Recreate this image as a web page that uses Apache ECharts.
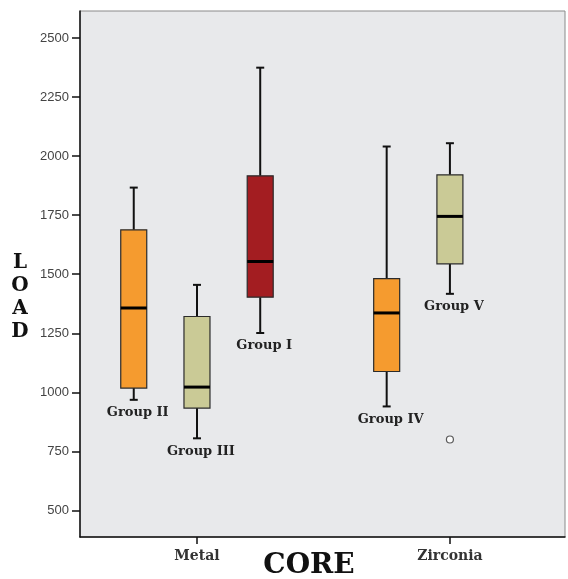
<!DOCTYPE html>
<html>
<head>
<meta charset="utf-8">
<script src="https://cdn.jsdelivr.net/npm/echarts@6/dist/echarts.min.js"></script>
<style>
  html, body { margin: 0; padding: 0; background: #ffffff; }
  #chart { width: 568px; height: 579px; }
</style>
</head>
<body>
<div id="chart"></div>
<script>
// ---- data ----
const categories = ['Metal', 'Zirconia'];
const groupNames = ['Group II', 'Group III', 'Group I', 'Group IV', 'Group V'];
const groupCore = [0, 0, 0, 1, 1];   // index into categories
const groupSlot = [0, 1, 2, 0, 1];   // cluster member index
const minVals    = [968, 805, 1251, 940, 1417];
const q1Vals     = [1018, 933, 1403, 1088, 1544];
const medianVals = [1357, 1022, 1554, 1336, 1745];
const q3Vals     = [1688, 1321, 1917, 1481, 1921];
const maxVals    = [1867, 1455, 2375, 2041, 2055];
const outlierGroups = ['Group V'];
const outlierValues = [800];
const yTicks = [500, 750, 1000, 1250, 1500, 1750, 2000, 2250, 2500];

// ---- layout helpers (clustered positions on a value scale) ----
const CLUSTER = 4;
const slotX = (cat, slot) => cat * CLUSTER + slot + 1;
const catX = (cat) => cat * CLUSTER + 2;
const slotColors = ['#F59B2F', '#CACA96', '#A31D21'];

const boxData = groupNames.map((n, i) => ({
  name: n,
  value: [slotX(groupCore[i], groupSlot[i]), minVals[i], q1Vals[i], medianVals[i], q3Vals[i], maxVals[i], groupSlot[i]]
}));
const outlierData = outlierGroups.map((g, k) => {
  const i = groupNames.indexOf(g);
  return [slotX(groupCore[i], groupSlot[i]), outlierValues[k]];
});

const chart = echarts.init(document.getElementById('chart'), null, { renderer: 'canvas' });

function renderBox(params, api) {
  const x = api.value(0);
  const pMin = api.coord([x, api.value(1)]);
  const pQ1 = api.coord([x, api.value(2)]);
  const pMed = api.coord([x, api.value(3)]);
  const pQ3 = api.coord([x, api.value(4)]);
  const pMax = api.coord([x, api.value(5)]);
  const slot = api.value(6);
  const cx = pMin[0];
  const bw = 26, cap = 4;
  const name = groupNames[params.dataIndex];
  return {
    type: 'group',
    children: [
      { type: 'line', shape: { x1: cx, y1: pMax[1], x2: cx, y2: pQ3[1] }, style: { stroke: '#111', lineWidth: 2 } },
      { type: 'line', shape: { x1: cx, y1: pQ1[1], x2: cx, y2: pMin[1] }, style: { stroke: '#111', lineWidth: 2 } },
      { type: 'line', shape: { x1: cx - cap, y1: pMax[1], x2: cx + cap, y2: pMax[1] }, style: { stroke: '#111', lineWidth: 2 } },
      { type: 'line', shape: { x1: cx - cap, y1: pMin[1], x2: cx + cap, y2: pMin[1] }, style: { stroke: '#111', lineWidth: 2 } },
      { type: 'rect', shape: { x: cx - bw / 2, y: pQ3[1], width: bw, height: pQ1[1] - pQ3[1] },
        style: { fill: slotColors[slot], stroke: '#2b2b2b', lineWidth: 1.2 } },
      { type: 'line', shape: { x1: cx - bw / 2, y1: pMed[1], x2: cx + bw / 2, y2: pMed[1] }, style: { stroke: '#000', lineWidth: 3 } },
      { type: 'text', style: { text: name, x: cx + 4, y: pMin[1] + 13, align: 'center', verticalAlign: 'middle',
        fill: '#222', fontSize: 13, fontWeight: 'bold', fontFamily: '"DejaVu Serif", serif' } }
    ]
  };
}

const option = {
  animation: false,
  backgroundColor: '#ffffff',
  grid: {
    left: 80, right: 3, top: 11, bottom: 42,
    outerBoundsMode: 'none',
    containLabel: false,
    show: true, backgroundColor: '#E8E9EB', borderColor: '#8a8a8a', borderWidth: 1
  },
  xAxis: {
    type: 'value',
    min: 0.15, max: 7.82,
    splitLine: { show: false },
    axisLine: { show: true, onZero: false, lineStyle: { color: '#111', width: 1.5 } },
    axisTick: { show: true, customValues: [catX(0), catX(1)], length: 7, lineStyle: { color: '#111', width: 1.5 } },
    axisLabel: {
      customValues: [catX(0), catX(1)],
      formatter: (v) => categories[Math.round((v - 2) / CLUSTER)],
      margin: 12, color: '#333', fontSize: 14, fontWeight: 'bold', fontFamily: '"DejaVu Serif", serif'
    },
    name: 'CORE',
    nameLocation: 'middle',
    nameGap: 15,
    nameMoveOverlap: false,
    nameTextStyle: { fontSize: 28, fontWeight: 'bold', fontFamily: '"DejaVu Serif", serif', color: '#111',
      padding: [0, 27, 0, 0] }
  },
  yAxis: {
    type: 'value',
    min: 387, max: 2615,
    splitLine: { show: false },
    axisLine: { show: true, onZero: false, lineStyle: { color: '#111', width: 1.5 } },
    axisTick: { show: true, customValues: yTicks, length: 8, lineStyle: { color: '#111', width: 1.5 } },
    axisLabel: { customValues: yTicks, formatter: (v) => String(v), margin: 11, color: '#444', fontSize: 13,
      fontFamily: '"Liberation Sans", Arial, sans-serif' },
    name: '\n\nL\nO\nA\nD',
    nameLocation: 'middle',
    nameRotate: 0,
    nameGap: 60,
    nameMoveOverlap: false,
    nameTextStyle: { fontSize: 20, fontWeight: 'bold', fontFamily: '"DejaVu Serif", serif', color: '#111',
      lineHeight: 23, align: 'center' }
  },
  series: [
    {
      type: 'custom',
      name: 'LOAD',
      renderItem: renderBox,
      encode: { x: 0, y: [1, 2, 3, 4, 5] },
      data: boxData,
      z: 3
    },
    {
      type: 'scatter',
      name: 'Outliers',
      symbol: 'circle',
      symbolSize: 7,
      itemStyle: { color: '#ffffff', borderColor: '#333', borderWidth: 1.2 },
      data: outlierData,
      z: 4
    }
  ]
};
chart.setOption(option);
</script>
</body>
</html>
